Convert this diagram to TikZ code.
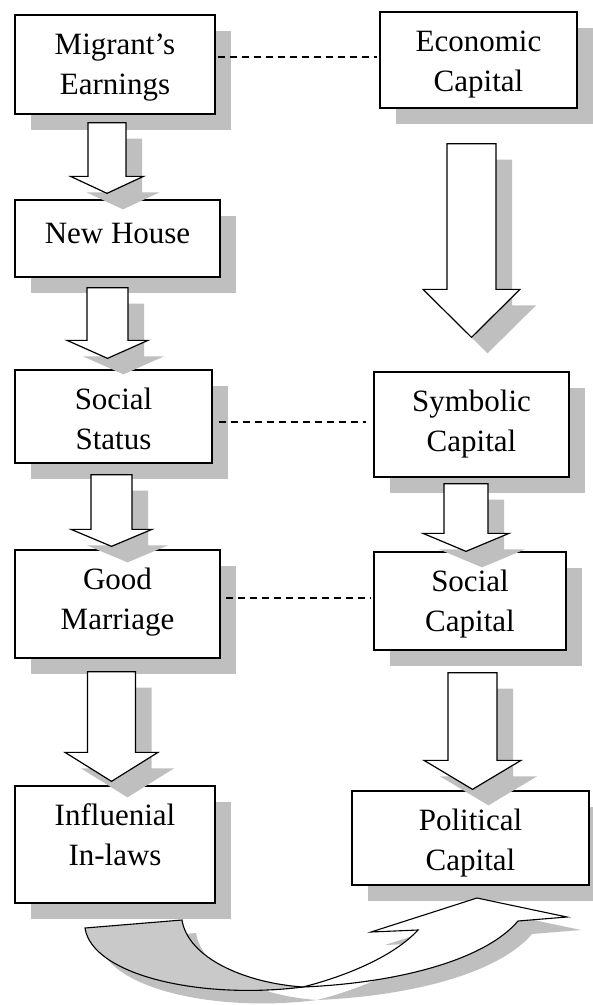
\documentclass[tikz,border=0pt]{standalone}
\usepackage{fontspec}
\setmainfont{Liberation Serif}
\usetikzlibrary{calc,shadows}

\definecolor{shadowgray}{gray}{0.75}
\definecolor{lobegray}{gray}{0.79}

% stacked lines, baseline on the first line
\newcommand\twolines[1]{\begin{tabular}[t]{@{}c@{}}#1\end{tabular}}

% hollow block arrow between two boxes
% #1 axis x, #2 source node, #3 gap below source, #4 target node,
% #5 gap above target, #6 half shaft width, #7 half head width, #8 head length
\newcommand\blockarrow[8]{%
  \coordinate (ba-s) at ($(#1,0 |- #2.south)+(0,#3)$);
  \coordinate (ba-t) at ($(#1,0 |- #4.north)+(0,-#5)$);
  \draw[blockarrow] (ba-s) ++(-#6,0) -- ++(2*#6,0)
    -- ($(ba-t)+(#6,-#8)$) -- ($(ba-t)+(#7,-#8)$) -- (ba-t)
    -- ($(ba-t)+(-#7,-#8)$) -- ($(ba-t)+(-#6,-#8)$) -- cycle;
}

% the two halves of the curved return arrow
\newcommand\leftlobe{(ca-a) -- (ca-b) .. controls (188,958) and (245,983) .. (ca-x)
  .. controls (200,1000) and (92,975) .. cycle}
\newcommand\rightlobe{(ca-x) .. controls (398,983) and (485,960) .. (ca-r)
  -- (ca-rb) -- (ca-ap) -- (ca-lb) -- (ca-l)
  .. controls (395,955) and (350,975) .. cycle}

\begin{document}
\begin{tikzpicture}[x=1pt,y=-1pt,
  capbox/.style={draw, line width=1.3pt, fill=white, inner sep=0pt,
    minimum width=#1, minimum height=0pt,
    font=\fontsize{31}{40}\selectfont, text height=39pt,
    drop shadow={shadow xshift=16pt, shadow yshift=-16pt, fill=shadowgray, opacity=1}},
  dashlink/.style={line width=1.1pt, dash pattern=on 7pt off 5pt},
  blockarrow/.style={draw, fill=white, line width=1.2pt, line join=miter,
    drop shadow={shadow xshift=16pt, shadow yshift=-16pt, fill=shadowgray, opacity=1}},
  outline/.style={draw, line width=1.1pt, line join=miter}]

\path[use as bounding box, fill=white] (0,0) rectangle (593,1005);
\clip (0,0) rectangle (593,1005);

% left column
\node[capbox=200pt, text depth=60pt] (me) at (115,64.5) {\twolines{Migrant’s\\Earnings}};
\node[capbox=205pt, text height=43pt, text depth=34pt] (nh) at (117.5,238.5) {New House};
\node[capbox=197pt, text depth=54pt] (ss) at (113.5,416.5) {\twolines{Social\\Status}};
\node[capbox=205pt, text depth=69pt] (gm) at (117.5,604) {\twolines{Good\\Marriage}};
\node[capbox=200pt, text depth=78pt] (il) at (115,844.5) {\twolines{Influenial\\In-laws}};

% right column
\node[capbox=197pt, text depth=57pt] (ec) at (478.5,60) {\twolines{Economic\\Capital}};
\node[capbox=195pt, text depth=66pt] (sc) at (471.5,424.5) {\twolines{Symbolic\\Capital}};
\node[capbox=192pt, text depth=59pt] (soc) at (470,601) {\twolines{Social\\Capital}};
\node[capbox=237pt, text depth=55pt] (pc) at (470.5,838) {\twolines{Political\\Capital}};

% correspondences
\draw[dashlink, shorten <=2pt, shorten >=2pt] (me.east |- 0,57) -- (ec.west |- 0,57);
\draw[dashlink, shorten <=6pt, shorten >=7pt] (ss.east |- 0,422) -- (sc.west |- 0,422);
\draw[dashlink, shorten <=5pt, shorten >=2pt] (gm.east |- 0,598) -- (soc.west |- 0,598);

% flow arrows
\blockarrow{107}{me}{8}{nh}{6}{19}{36.5}{17}
\blockarrow{107.5}{nh}{10}{ss}{11}{20.5}{40.5}{18}
\blockarrow{111.5}{ss}{11}{gm}{3}{20.5}{40.5}{17}
\blockarrow{111.5}{gm}{13}{il}{4}{24}{46.5}{29}
\blockarrow{471.5}{ec}{35}{sc}{34}{24.5}{48.5}{48}
\blockarrow{466}{sc}{6}{soc}{0}{22}{43}{18}
\blockarrow{472.5}{soc}{22}{pc}{1}{24.5}{48.5}{29}

% curved arrow from the in-laws to political capital
\coordinate (ca-a) at (85,928);
\coordinate (ca-b) at (182,920);
\coordinate (ca-x) at (303,987);
\coordinate (ca-l) at (418,930);
\coordinate (ca-lb) at (371,932);
\coordinate (ca-ap) at (477,898);
\coordinate (ca-rb) at (567,917);
\coordinate (ca-r) at (518,921);
\begin{scope}[transform canvas={shift={(14,13)}}]
  \fill[shadowgray] \leftlobe \rightlobe;
\end{scope}
\draw[outline, fill=lobegray] \leftlobe;
\draw[outline, fill=white] \rightlobe;
\end{tikzpicture}
\end{document}
